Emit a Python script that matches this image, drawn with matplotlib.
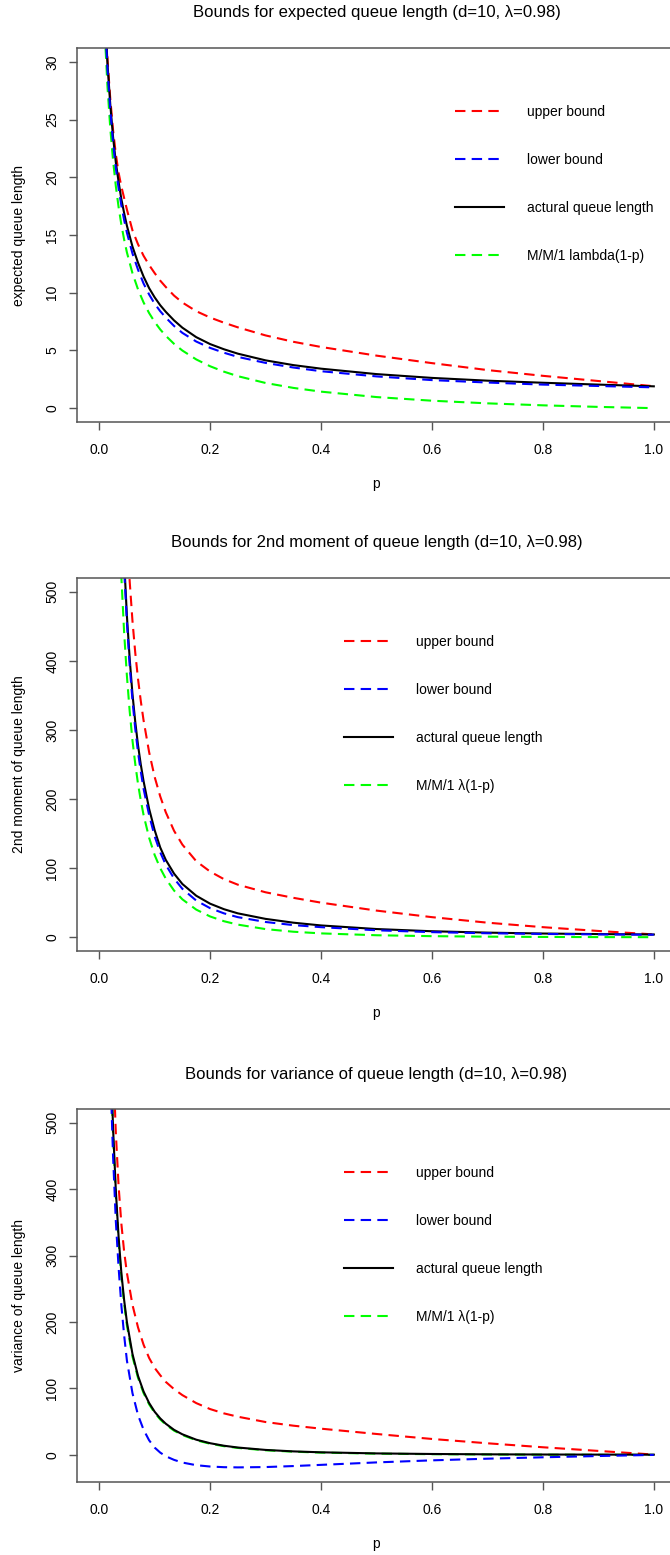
import matplotlib
matplotlib.use("Agg")
import matplotlib.pyplot as plt
from matplotlib.lines import Line2D

plt.rcParams['font.family'] = ['Liberation Sans', 'DejaVu Sans']

# ---- panel 1: expected queue length ----
p1 = [0.01, 0.015, 0.02, 0.025, 0.03, 0.035, 0.04, 0.045, 0.05, 0.06, 0.07,
      0.08, 0.09, 0.1, 0.11, 0.12, 0.135, 0.15, 0.175, 0.2, 0.225, 0.25, 0.3,
      0.35, 0.4, 0.5, 0.6, 0.7, 0.8, 0.9, 1.0]
upper1 = [34.8, 30.2, 26.8, 24.1, 22.0, 20.4, 19.2, 18.2, 17.2, 15.4, 14.2,
          13.2, 12.4, 11.7, 11.05, 10.5, 9.75, 9.15, 8.4, 7.85, 7.4, 7.0, 6.3,
          5.75, 5.3, 4.55, 3.9, 3.3, 2.8, 2.35, 1.9]
lower1 = [34.1, 29.3, 25.8, 23.0, 20.8, 19.05, 17.55, 16.3, 15.2, 13.4, 12.0,
          10.8, 9.85, 9.05, 8.4, 7.85, 7.12, 6.52, 5.77, 5.22, 4.8, 4.44, 3.92,
          3.52, 3.2, 2.75, 2.43, 2.22, 2.04, 1.92, 1.8]
actual1 = [34.6, 29.8, 26.3, 23.5, 21.3, 19.6, 18.1, 16.9, 15.8, 14.0, 12.6,
           11.4, 10.4, 9.6, 8.92, 8.35, 7.6, 6.97, 6.15, 5.55, 5.1, 4.72, 4.14,
           3.73, 3.42, 2.95, 2.62, 2.38, 2.2, 2.04, 1.89]
mm1_1 = [32.6, 27.8, 24.25, 21.47, 19.24, 17.42, 15.89, 14.6, 13.49, 11.69, 10.29,
         9.16, 8.24, 7.47, 6.82, 6.27, 5.57, 4.99, 4.22, 3.63, 3.16, 2.77, 2.18,
         1.755, 1.43, 0.96, 0.645, 0.416, 0.244, 0.109, 0.0]

# ---- panel 2: 2nd moment ----
p2 = [0.035, 0.04, 0.045, 0.05, 0.055, 0.06, 0.065, 0.07, 0.075, 0.08, 0.09,
      0.1, 0.11, 0.12, 0.135, 0.15, 0.175, 0.2, 0.225, 0.25, 0.3, 0.35, 0.4,
      0.5, 0.6, 0.7, 0.8, 0.9, 1.0]
upper2 = [880, 760, 665, 585, 515, 458, 412, 374, 342, 314, 268,
          232, 204, 181, 154, 134, 110, 95, 84, 76, 65, 57, 50,
          38.5, 29, 21, 14.5, 9, 4]
lower2 = [745, 625, 532, 455, 393, 343, 302, 268, 240, 215, 177,
          146, 123, 105, 85, 70, 53, 42, 34.5, 29, 22, 17.5, 14.5,
          10, 7.3, 5.7, 4.7, 4.0, 3.6]
actual2 = [760, 640, 545, 465, 403, 352, 312, 278, 250, 226, 186,
           155, 130, 112, 92, 77, 60, 48.5, 40.5, 34.5, 26.5, 21, 17,
           11.8, 8.6, 6.6, 5.3, 4.5, 3.9]
mm1_2 = [624, 521, 441, 378, 327, 285, 251, 222, 198, 177, 144,
         119, 100, 84.8, 67.5, 54.8, 39.9, 30.0, 23.1, 18.2, 11.7, 7.91, 5.5,
         2.81, 1.48, 0.76, 0.36, 0.13, 0.0]

# ---- panel 3: variance ----
p3 = [0.015, 0.02, 0.025, 0.03, 0.035, 0.04, 0.045, 0.05, 0.06, 0.07, 0.08,
      0.09, 0.1, 0.11, 0.12, 0.135, 0.15, 0.175, 0.2, 0.225, 0.25, 0.3, 0.35,
      0.4, 0.5, 0.6, 0.7, 0.8, 0.9, 1.0]
upper3 = [950, 760, 600, 485, 405, 348, 306, 274, 226, 192, 166,
          146, 131, 120, 110, 99, 90, 78, 69, 62.5, 57.5, 49.5, 44,
          39.5, 31.5, 24, 17.5, 11.5, 6, 0.5]
lower3 = [780, 580, 450, 352, 282, 225, 180, 142, 93, 60, 38,
          22, 11, 3.5, -2, -7.5, -11.5, -15.5, -17.5, -18.5, -18.8, -18.3, -16.8,
          -15, -11.3, -8.2, -5.7, -3.6, -1.7, 0]
actual3 = [815, 624, 492, 398, 328, 274, 233, 200, 152, 119, 95.5,
           78.2, 65, 55, 47, 37.7, 31, 22.9, 17.6, 13.8, 11.1, 7.5, 5.3,
           3.9, 2.25, 1.38, 0.88, 0.58, 0.43, 0.35]
mm1_3 = [802, 612, 482, 390, 321, 268, 228, 195, 148, 116, 93.1,
         76.2, 63.3, 53.4, 45.5, 36.5, 29.9, 22.0, 16.8, 13.1, 10.5, 6.96, 4.83,
         3.46, 1.88, 1.06, 0.59, 0.30, 0.12, 0.0]

xticks = [0.0, 0.2, 0.4, 0.6, 0.8, 1.0]
xticklabels = ["0.0", "0.2", "0.4", "0.6", "0.8", "1.0"]

FIG_W, FIG_H = 670, 1555
AX_L, AX_R = 77, 676          # right edge falls outside the picture
DASH = (5, 3)
BOX = '#555555'


def panel(top, bottom, p, upper, lower, actual, mm1, title, ylabel,
          ymin, ymax, yticks, mm1_label, leg_x):
    ax = fig.add_axes([AX_L / FIG_W, 1 - bottom / FIG_H,
                       (AX_R - AX_L) / FIG_W, (bottom - top) / FIG_H])
    h = bottom - top
    ax.plot(p, upper, color='#ff0000', lw=1.5, dashes=DASH)
    ax.plot(p, mm1, color='#00ff00', lw=1.5, dashes=DASH)
    ax.plot(p, actual, color='black', lw=1.5)
    ax.plot(p, lower, color='#0000ff', lw=1.5, dashes=DASH)

    pad = 0.04 * (ymax - ymin)
    ax.set_ylim(ymin - pad, ymax + pad)
    ax.set_xlim(-0.04, 1.04)
    ax.set_xticks(xticks)
    ax.set_xticklabels(xticklabels)
    ax.set_yticks(yticks)
    ax.set_yticklabels([str(v) for v in yticks], rotation=90, va='center')
    ax.tick_params(direction='out', length=5.8, width=1.0, color=BOX,
                   labelsize=10, pad=7)
    ax.tick_params(axis='x', pad=9)
    for s in ax.spines.values():
        s.set_color(BOX)
        s.set_linewidth(1.1)

    ax.text(0.5, 1 + 35 / h, title, transform=ax.transAxes, ha='center',
            va='center', fontsize=12)
    ax.text((19 - AX_L) / (AX_R - AX_L), 0.5, ylabel, transform=ax.transAxes,
            rotation=90, ha='center', va='center', fontsize=10)
    ax.text((376 - AX_L) / (AX_R - AX_L), -62 / h, "p", transform=ax.transAxes,
            ha='center', va='center', fontsize=10)

    handles = [Line2D([], [], color='#ff0000', lw=1.5, dashes=DASH),
               Line2D([], [], color='#0000ff', lw=1.5, dashes=DASH),
               Line2D([], [], color='black', lw=1.5),
               Line2D([], [], color='#00ff00', lw=1.5, dashes=DASH)]
    labels = ["upper bound", "lower bound", "actural queue length", mm1_label]
    ax.legend(handles, labels, loc='upper left',
              bbox_to_anchor=((leg_x - AX_L) / (AX_R - AX_L), 1 - 57 / h),
              frameon=False, fontsize=10, handlelength=3.5, handletextpad=1.65,
              labelspacing=2.45, borderpad=0, borderaxespad=0)
    return ax


fig = plt.figure(figsize=(FIG_W / 100, FIG_H / 100), dpi=100)

panel(48, 422, p1, upper1, lower1, actual1, mm1_1,
      "Bounds for expected queue length (d=10, \u03bb=0.98)",
      "expected queue length", 0, 30, [0, 5, 10, 15, 20, 25, 30],
      "M/M/1 lambda(1-p)", 455)
panel(578, 951, p2, upper2, lower2, actual2, mm1_2,
      "Bounds for 2nd moment of queue length (d=10, \u03bb=0.98)",
      "2nd moment of queue length", 0, 500, [0, 100, 200, 300, 400, 500],
      "M/M/1 \u03bb(1-p)", 344)
panel(1109, 1482, p3, upper3, lower3, actual3, mm1_3,
      "Bounds for variance of queue length (d=10, \u03bb=0.98)",
      "variance of queue length", -20, 500, [0, 100, 200, 300, 400, 500],
      "M/M/1 \u03bb(1-p)", 344)

fig.savefig("out.png", dpi=100)
